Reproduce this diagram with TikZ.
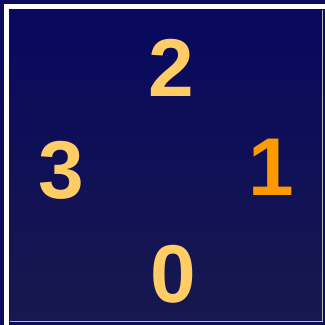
\documentclass[tikz,border=0pt]{standalone}
\usepackage{fontspec}
\setmainfont{Liberation Sans}
\definecolor{navy}{HTML}{0C0C5C}
\definecolor{paneltop}{HTML}{08085E}
\definecolor{panelbot}{HTML}{18184E}
\definecolor{digitlight}{HTML}{FFCC66}
\definecolor{digitdark}{HTML}{FF9900}
\tikzset{
  digit/.style={font=\fontsize{82}{82}\bfseries\selectfont, inner sep=0pt},
}
\begin{document}
\begin{tikzpicture}[x=1pt,y=1pt]
            \useasboundingbox (0,0) rectangle (325,325);
            \fill[navy] (0,0) rectangle (325,325);
            \fill[white] (4,0) rectangle (9,321);
            \fill[white] (4,316) rectangle (325,321);
            \shade[top color=paneltop, bottom color=panelbot] (10,4) rectangle (322,315);
            \draw[gray!55, line width=0.9pt] (10,3.5) -- (322.5,3.5) -- (322.5,315);
            \node[digit, text=digitlight] (two) at (171,257) {2};
            \node[digit, text=digitlight] (three) at (61,155) {3};
            \node[digit, text=digitdark] (one) at (271,158) {1};
            \node[digit, text=digitlight] (zero) at (173,51) {0};
          \end{tikzpicture}
\end{document}
